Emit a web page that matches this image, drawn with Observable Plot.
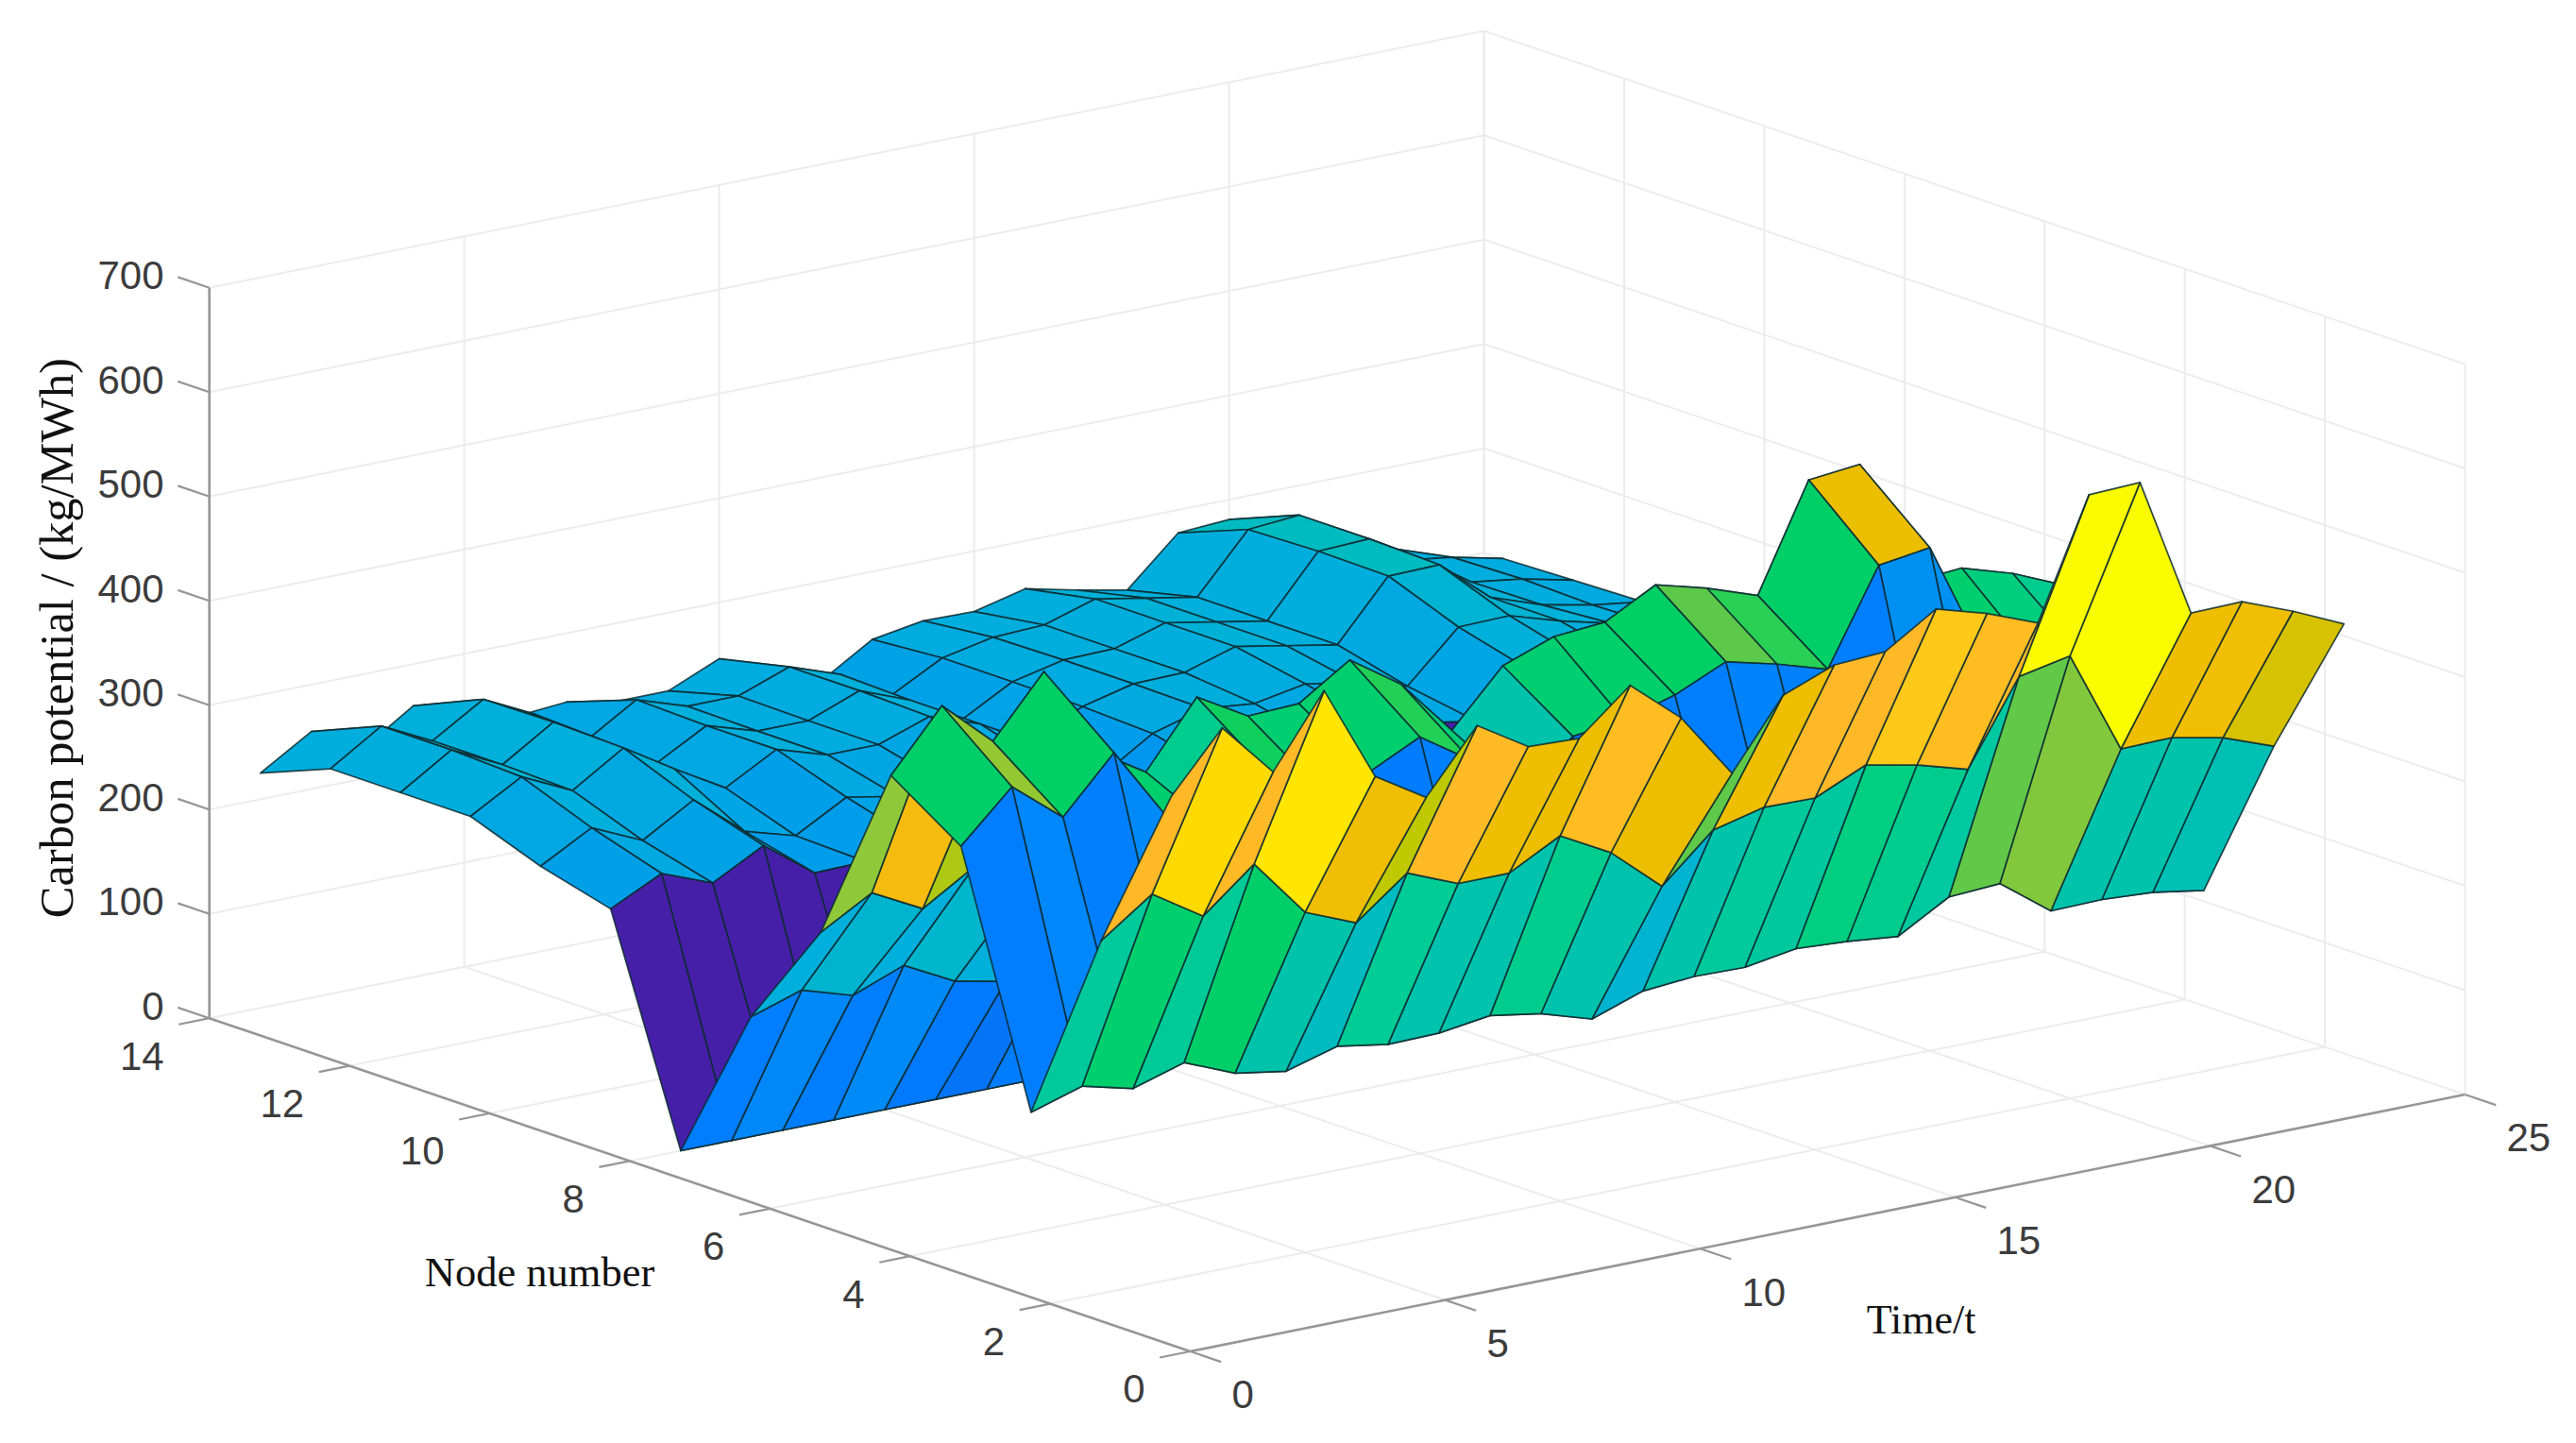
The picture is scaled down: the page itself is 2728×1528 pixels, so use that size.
<!DOCTYPE html>
<html>
<head>
<meta charset="utf-8">
<script src="https://cdn.jsdelivr.net/npm/d3@7"></script>
<script src="https://cdn.jsdelivr.net/npm/@observablehq/plot@0.6"></script>
<style>
html,body{margin:0;padding:0;background:#fff}
svg{display:block;max-width:none}
</style>
</head>
<body>
<div id="chart"></div>
<script>
const times=[1,2,3,4,5,6,7,8,9,10,11,12,13,14,15,16,17,18,19,20,21,22,23,24];
const nodes=[1,2,3,4,5,6,7,8,9,10,11,12,13,14];
const node1=[499,555,503,571,479,449,508,478,476,517,476,413,478,497,500,531,517,498,611,613,478,479,460,438];
const node2=[338,373,342,382,326,306,344,324,324,350,324,282,326,338,337,359,349,335,414,424,325,326,316,298];
const node3=[151,166,154,169,149,141,155,147,148,155,147,132,149,153,152,160,157,152,180,183,147,148,145,137];
const node4=[383,430,391,443,374,350,395,370,375,399,367,325,370,376,390,412,400,385,475,482,375,360,350,335];
const node5=[428,485,441,498,412,382,444,416,418,450,417,363,415,433,437,463,450,433,534,539,416,420,405,384];
const node6=[255,283,258,288,260,248,270,255,255,275,255,225,250,260,262,272,265,255,295,298,258,258,250,238];
const node7=[151,167,152,171,146,136,150,145,148,155,148,135,150,155,152,160,158,152,180,182,150,150,146,138];
const node8=[0,0,0,0,0,0,0,0,0,0,0,0,0,0,0,0,0,0,0,0,0,0,0,0];
const node9=[209,233,214,240,204,205,215,210,210,225,205,190,220,235,230,238,230,221,261,262,250,240,230,225];
const node10=[227,254,232,261,221,207,234,225,225,240,222,205,236,250,245,254,245,232,279,280,265,253,240,232];
const node11=[252,280,257,288,258,230,257,242,242,259,242,215,239,251,252,267,258,249,305,306,265,248,238,231];
const node12=[252,283,259,290,262,230,257,242,242,261,242,213,240,251,252,267,258,249,306,308,280,247,240,229];
const node13=[252,283,259,289,265,229,259,243,243,261,244,214,240,250,252,267,258,249,304,308,265,245,238,227];
const node14=[225,255,228,260,235,230,234,225,225,246,215,205,235,243,242,254,243,233,278,281,250,235,225,205];
const rows=[node1,node2,node3,node4,node5,node6,node7,node8,node9,node10,node11,node12,node13,node14];

const zTicks=[0,100,200,300,400,500,600,700];
const nodeTicks=[0,2,4,6,8,10,12,14];
const timeTicks=[0,5,10,15,20,25];
const zTitle="Carbon potential / (kg/MWh)";
const nodeTitle="Node number";
const timeTitle="Time/t";

const colorDomain=[0,150,190,215,250,280,305,325,345,372,392,400,412,428,448,465,478,497,516,530,551,567,610];
const colorRange=["#451fa8","#007dff","#0096f0","#00a3e6","#00aede","#00b3d2","#00bbc0","#00c3ac","#00cc94","#00cf6e","#00cf64","#28d055","#5cc94a","#8fc838","#bec800","#e0c000","#efbe00","#ffb928","#ffbc22","#ffc81a","#ffd600","#ffe400","#fafa00"];

// axonometric view of the (time, node, value) box
const px=(t,n)=>1260+54*t-74.2*n;
const py=(t,n,z)=>1430.5-10.88*t-25.2*n-1.105*z;
const seg=(a,b)=>({x1:px(a[0],a[1]),y1:py(a[0],a[1],a[2]),x2:px(b[0],b[1]),y2:py(b[0],b[1],b[2])});

const grid=[];
for(const t of timeTicks.slice(1)){
  grid.push(seg([t,0,0],[t,14,0]));
  grid.push(seg([t,14,0],[t,14,700]));
}
for(const n of nodeTicks){
  if(n>0) grid.push(seg([0,n,0],[25,n,0]));
  grid.push(seg([25,n,0],[25,n,700]));
}
for(const z of zTicks){
  if(z>0) grid.push(seg([0,14,z],[25,14,z]));
  if(z>0) grid.push(seg([25,0,z],[25,14,z]));
}
const axes=[seg([0,14,0],[0,14,700]),seg([0,14,0],[0,0,0]),seg([0,0,0],[25,0,0])];
const ticks=[
  ...zTicks.map(z=>seg([0,14,z],[0,14.45,z])),
  ...nodeTicks.map(n=>seg([0,n,0],[-0.6,n,0])),
  ...timeTicks.map(t=>seg([t,0,0],[t,-0.44,0]))
];

// faces, back to front; each face takes the value of its lowest-index corner
const faces=[];
for(let i=nodes.length-2;i>=0;i--){
  for(let j=times.length-2;j>=0;j--){
    const id=`${i}-${j}`, c=rows[i][j];
    for(const [a,b] of [[i,j],[i,j+1],[i+1,j+1],[i+1,j],[i,j]]){
      faces.push({id,c,x:px(times[b],nodes[a]),y:py(times[b],nodes[a],rows[a][b])});
    }
  }
}

const tickFont="Liberation Sans, Arial, sans-serif";
const titleFont="Liberation Serif, Times New Roman, serif";

const chart=Plot.plot({
  width:2728,height:1528,
  marginTop:0,marginRight:0,marginBottom:0,marginLeft:0,
  style:{background:"#fff",overflow:"visible"},
  x:{domain:[0,2728],range:[0,2728],axis:null},
  y:{domain:[0,1528],range:[0,1528],axis:null},
  color:{type:"linear",domain:colorDomain,range:colorRange,legend:false},
  marks:[
    Plot.link(grid,{x1:"x1",y1:"y1",x2:"x2",y2:"y2",stroke:"#ececec",strokeWidth:2}),
    Plot.link(axes,{x1:"x1",y1:"y1",x2:"x2",y2:"y2",stroke:"#969696",strokeWidth:2.6}),
    Plot.link(ticks,{x1:"x1",y1:"y1",x2:"x2",y2:"y2",stroke:"#969696",strokeWidth:2.2}),
    Plot.line(faces,{x:"x",y:"y",z:"id",fill:"c",stroke:"#0c2a30",strokeWidth:1.7,strokeOpacity:0.85,strokeLinejoin:"round",curve:"linear"}),
    Plot.text(zTicks,{x:()=>173,y:d=>py(0,14,d)-12,text:d=>String(d),textAnchor:"end",fontSize:42,fontFamily:tickFont,fill:"#3c3c3c"}),
    Plot.text(nodeTicks,{x:d=>px(0,d)-48,y:d=>py(0,d,0)+41,text:d=>String(d),textAnchor:"end",fontSize:42,fontFamily:tickFont,fill:"#3c3c3c"}),
    Plot.text(timeTicks,{x:d=>px(d,0)+44,y:d=>py(d,0,0)+47,text:d=>String(d),textAnchor:"start",fontSize:42,fontFamily:tickFont,fill:"#3c3c3c"}),
    Plot.text([nodeTitle],{x:()=>571,y:()=>1347,text:d=>d,fontSize:44.5,fontFamily:titleFont,fill:"#111"}),
    Plot.text([timeTitle],{x:()=>2034,y:()=>1397,text:d=>d,fontSize:44,fontFamily:titleFont,fill:"#111"}),
    Plot.text([zTitle],{x:()=>60,y:()=>675,text:d=>d,rotate:-90,fontSize:50.5,fontFamily:titleFont,fill:"#111"})
  ]
});
document.getElementById("chart").append(chart);
</script>
</body>
</html>
